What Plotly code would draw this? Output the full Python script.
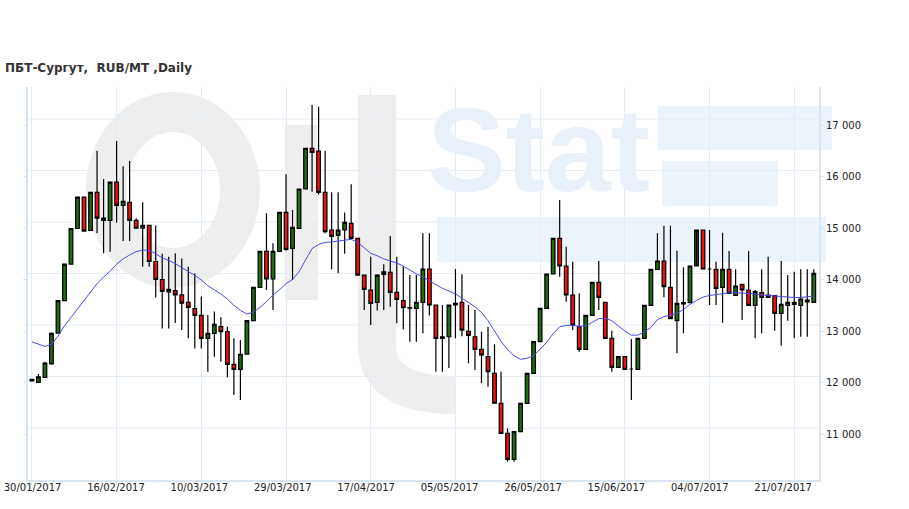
import plotly.graph_objects as go
import pandas as pd

# ---------------- data ----------------
HOLIDAYS = ["2017-02-23", "2017-02-24", "2017-03-08", "2017-05-01",
            "2017-05-08", "2017-05-09", "2017-06-12"]
N_DAYS = 121
all_days = pd.bdate_range("2017-01-30", "2017-08-15")
dates = [d.strftime("%d/%m/%Y") for d in all_days
         if d.strftime("%Y-%m-%d") not in HOLIDAYS][:N_DAYS]

open_ = [12060, 12000, 12100, 12360, 12960, 13590, 14300, 14990, 15600, 14955,
         15690, 15190, 15150, 15890, 15440, 15500, 15150, 14995, 15050, 14350,
         14000, 13757, 13783, 13700, 13557, 13435, 13305, 12858, 12955, 13085,
         12987, 12353, 12256, 12549, 13200, 13849, 14547, 14010, 14547, 15305,
         14606, 14994, 15757, 16547, 16495, 15693, 14961, 14858, 14961, 15091,
         14800, 14087, 13796, 13557, 14100, 14140, 13752, 13590, 13453, 13440,
         13557, 14204, 13505, 12858, 12889, 13505, 13557, 12994, 12889, 12644,
         12501, 12178, 11596, 11014, 10509, 11045, 11596, 12178, 12792, 13440,
         14107, 14800, 14262, 13699, 13085, 12644, 13305, 13946, 13557, 12858,
         12295, 12501, 12262, 12256, 12858, 13499, 14198, 14359, 13849, 13200,
         13550, 13550, 14262, 14961, 14204, 14198, 13849, 14198, 13693, 13907,
         13796, 13499, 13744, 13654, 13686, 13344, 13499, 13557, 13499, 13602,
         13557]
high = [12070, 12165, 12405, 12970, 13590, 14300, 14990, 15600, 15600, 15690,
        16500, 15950, 15890, 16690, 16200, 16300, 15190, 15500, 15050, 15050,
        14500, 14443, 14508, 14410, 14250, 14120, 13670, 13311, 13380, 13265,
        13085, 12858, 12825, 13200, 13849, 14547, 15285, 14703, 15305, 16043,
        15350, 15757, 16547, 17388, 17356, 16495, 15693, 15693, 15300, 15848,
        14800, 14087, 14443, 14100, 14295, 14845, 14443, 14256, 14087, 14087,
        14897, 14897, 13505, 13505, 13505, 14204, 14101, 13505, 13408, 12987,
        13085, 12742, 12209, 11111, 11045, 11596, 12178, 12792, 13440, 14107,
        14800, 15544, 14637, 14346, 13732, 13305, 13946, 14359, 13557, 13006,
        12501, 12501, 12845, 12858, 13499, 14198, 14897, 15045, 15045, 14560,
        14237, 14237, 14262, 14961, 14961, 14346, 14910, 14553, 14198, 13874,
        14553, 13796, 14198, 14443, 13699, 14359, 14087, 14152, 14198, 14198,
        14198]
low = [12020, 11990, 12100, 12360, 12960, 13590, 14300, 14990, 14940, 14955,
       14900, 14510, 14540, 15100, 14750, 14750, 14990, 14250, 14250, 13650,
       13050, 13050, 13155, 13020, 12860, 12660, 12660, 12210, 12500, 12404,
       12100, 11757, 11660, 12549, 13200, 13849, 13796, 13408, 14547, 14560,
       13990, 14994, 15757, 15705, 15650, 14897, 14198, 14120, 14500, 14800,
       14087, 13408, 13117, 13400, 13408, 13472, 13150, 13027, 12792, 12792,
       12955, 13300, 12209, 12209, 12280, 12858, 12900, 12373, 12242, 11984,
       11919, 11597, 11014, 10462, 10462, 11045, 11596, 12178, 12792, 13440,
       14107, 14054, 13569, 13019, 12598, 12644, 13305, 13408, 12858, 12209,
       12295, 12256, 11660, 12256, 12858, 13499, 14198, 13654, 13241, 12567,
       12955, 13550, 14262, 14204, 13505, 13505, 13162, 13732, 13693, 13213,
       13499, 12858, 12955, 13654, 13006, 12714, 13200, 12858, 12890, 12890,
       13557]
close = [12030, 12110, 12375, 12955, 13590, 14300, 14990, 15600, 14940, 15690,
         15190, 15150, 15890, 15440, 15520, 15150, 14995, 15050, 14350, 14000,
         13770, 13810, 13700, 13540, 13460, 13305, 12858, 12955, 13130, 12987,
         12353, 12256, 12549, 13200, 13849, 14547, 14010, 14547, 15305, 14586,
         15013, 15757, 16547, 16470, 15693, 14928, 14838, 14961, 15110, 14800,
         14087, 13810, 13538, 14087, 14150, 13752, 13616, 13453, 13445, 13557,
         14204, 13505, 12858, 12889, 13505, 13538, 13019, 12917, 12644, 12534,
         12209, 11597, 11014, 10509, 11045, 11596, 12178, 12792, 13440, 14107,
         14800, 14262, 13699, 13117, 12644, 13305, 13946, 13654, 12858, 12295,
         12501, 12256, 12262, 12858, 13499, 14198, 14359, 13862, 13241, 13538,
         13525, 14262, 14961, 14204, 14204, 13829, 14198, 13732, 13874, 13796,
         13499, 13764, 13654, 13699, 13344, 13518, 13557, 13518, 13621, 13563,
         14120]
ma = [12790, 12740, 12700, 12740, 12900, 13100, 13260, 13420, 13600, 13760,
      13920, 14050, 14160, 14300, 14400, 14476, 14540, 14573, 14565, 14500,
      14420, 14370, 14310, 14230, 14160, 14080, 13990, 13880, 13800, 13720,
      13620, 13500, 13400, 13330, 13370, 13460, 13570, 13700, 13800, 13920,
      14000, 14150, 14380, 14600, 14680, 14720, 14730, 14745, 14770, 14780,
      14720, 14620, 14510, 14460, 14400, 14360, 14320, 14260, 14180, 14110,
      14050, 13970, 13900, 13830, 13780, 13720, 13640, 13560, 13470, 13360,
      13200, 13000, 12800, 12640, 12520, 12450, 12470, 12520, 12640, 12780,
      12950, 13080, 13110, 13110, 13090, 13100, 13170, 13240, 13250, 13200,
      13100, 13000, 12920, 12920, 12980, 13070, 13220, 13280, 13310, 13340,
      13420, 13520, 13590, 13660, 13690, 13710, 13730, 13740, 13745, 13740,
      13730, 13720, 13700, 13690, 13670, 13660, 13650, 13650, 13650, 13660,
      13680]

y_ticks = [11000, 12000, 13000, 14000, 15000, 16000, 17000]
y_tick_text = ["11 000", "12 000", "13 000", "14 000", "15 000", "16 000", "17 000"]
TICK_STEP = 13
x_ticks = dates[::TICK_STEP]
TITLE = "ПБТ-Сургут,\u00a0 RUB/MT ,Daily"

# ---------------- layout helpers ----------------
W, H = 909, 509
PL, PR, PT, PB = 28, 819, 87, 480
X_RANGE = [-0.6, 120.8]
LABEL_DRIFT = 0.2   # the original's date labels creep left of their grid lines


def px(x):
    return (x - PL) / (PR - PL)


def py(y):
    return (PB - y) / (PB - PT)


GRID = "#e3ecf5"
AXIS = "#d9e5f0"

fig = go.Figure()

fig.add_trace(go.Candlestick(
    x=dates, open=open_, high=high, low=low, close=close,
    increasing=dict(fillcolor="#1e6b10", line=dict(color="#000000", width=1.2)),
    decreasing=dict(fillcolor="#ee1111", line=dict(color="#000000", width=1.2)),
    whiskerwidth=0, showlegend=False, hoverinfo="skip"))

fig.add_trace(go.Scatter(
    x=dates, y=ma, mode="lines", line=dict(color="#4a4af0", width=1),
    showlegend=False, hoverinfo="skip"))

# empty helper trace that carries the label axis
fig.add_trace(go.Scatter(x=[], y=[], xaxis="x2", yaxis="y", showlegend=False,
                         hoverinfo="skip"))

label_pos = [k * TICK_STEP - k * LABEL_DRIFT + 0.1 for k in range(len(x_ticks))]

shapes = []
# watermark: gray "Oil" and blue "Stat" blocks
wm_gray = "rgba(200,200,200,0.3)"
shapes.append(dict(type="circle", xref="paper", yref="paper",
                   x0=px(106), x1=px(240), y0=py(268), y1=py(112),
                   line=dict(color=wm_gray, width=40), layer="below"))
shapes.append(dict(type="rect", xref="paper", yref="paper",
                   x0=px(285), x1=px(318), y0=py(300), y1=py(125),
                   line=dict(width=0), fillcolor=wm_gray, layer="below"))
shapes.append(dict(type="path", xref="paper", yref="paper",
                   path=(f"M {px(377)},{py(95)} L {px(377)},{py(345)} "
                         f"Q {px(377)},{py(395)} {px(455)},{py(395)}"),
                   line=dict(color=wm_gray, width=38), layer="below"))
wm_blue = "#ecf4fb"
shapes.append(dict(type="rect", xref="paper", yref="paper",
                   x0=px(658), x1=px(832), y0=py(150), y1=py(106),
                   line=dict(width=0), fillcolor=wm_blue, layer="below"))
shapes.append(dict(type="rect", xref="paper", yref="paper",
                   x0=px(662), x1=px(778), y0=py(206), y1=py(161),
                   line=dict(width=0), fillcolor=wm_blue, layer="below"))
shapes.append(dict(type="rect", xref="paper", yref="paper",
                   x0=px(437), x1=px(826), y0=py(262), y1=py(217),
                   line=dict(width=0), fillcolor=wm_blue, layer="below"))

# horizontal grid lines (drawn slightly above the tick marks, as in the original)
for v in y_ticks:
    shapes.append(dict(type="line", xref="paper", yref="y", x0=0, x1=1,
                       y0=v + 116, y1=v + 116,
                       line=dict(color=GRID, width=1), layer="below"))

tickfont = dict(family="DejaVu Sans", size=10, color="#222222")

fig.update_layout(
    width=W, height=H,
    margin=dict(l=PL, r=W - PR, t=PT, b=H - PB, pad=0, autoexpand=False),
    paper_bgcolor="white", plot_bgcolor="white",
    boxgap=0.2,
    showlegend=False,
    shapes=shapes,
    annotations=[
        dict(text=TITLE, xref="paper", yref="paper", x=px(3), y=py(68),
             xanchor="left", yanchor="middle", showarrow=False,
             font=dict(family="DejaVu Sans", size=12, color="#333333", weight="bold")),
        dict(text="Stat", xref="paper", yref="paper", x=px(538), y=py(150),
             xanchor="center", yanchor="middle", showarrow=False,
             font=dict(family="Liberation Sans", size=118, color="#e8f1fa", weight="bold")),
    ],
    xaxis=dict(type="category", range=X_RANGE, automargin=False,
               tickmode="array", tickvals=x_ticks, ticktext=x_ticks,
               showticklabels=False,
               showgrid=True, gridcolor=GRID, gridwidth=1,
               showline=True, linecolor=AXIS, linewidth=2,
               ticks="outside", ticklen=3, tickcolor=AXIS,
               rangeslider=dict(visible=False), zeroline=False, layer="below traces"),
    xaxis2=dict(overlaying="x", anchor="y", side="bottom", type="linear",
                range=X_RANGE, automargin=False,
                tickmode="array", tickvals=label_pos, ticktext=x_ticks,
                showgrid=False, showline=False, zeroline=False, ticks="",
                tickfont=tickfont),
    yaxis=dict(side="right", range=[10107, 17738], automargin=False,
               tickmode="array", tickvals=y_ticks, ticktext=y_tick_text,
               showgrid=False, zeroline=False,
               showline=True, linecolor=AXIS, linewidth=2, mirror="ticks",
               ticks="outside", ticklen=3, tickcolor=AXIS,
               tickfont=tickfont),
)

fig.write_html("out.html", config={"displayModeBar": False},
               post_script="document.body.style.margin='0';document.body.style.overflow='hidden';")
